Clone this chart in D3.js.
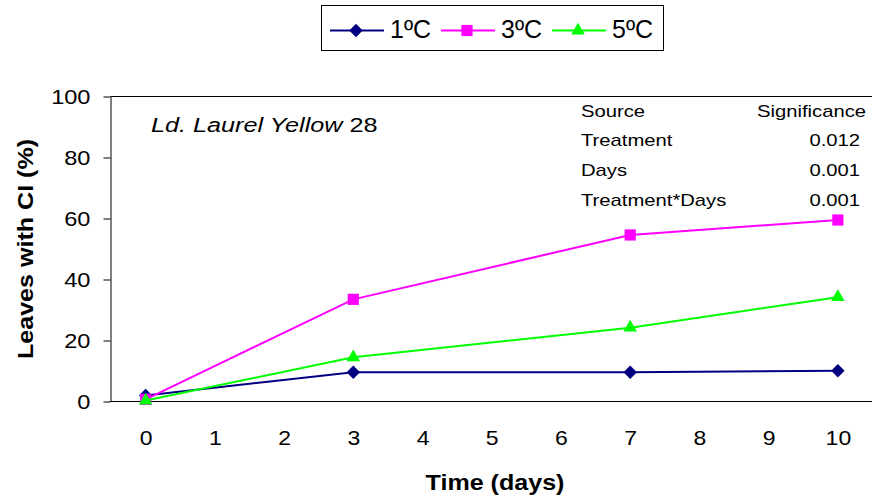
<!DOCTYPE html>
<html>
<head>
<meta charset="utf-8">
<script src="https://cdn.jsdelivr.net/npm/d3@7"></script>
<style>
body { margin: 0; background: #fff; }
svg { display: block; font-family: "Liberation Sans", Arial, sans-serif; }
</style>
</head>
<body>
<svg width="872" height="503"></svg>
<script>
// data
var days = [0, 3, 7, 10];
var dayTicks = [0, 1, 2, 3, 4, 5, 6, 7, 8, 9, 10];
var yTicks = [0, 20, 40, 60, 80, 100];
var seriesNames = ["1ºC", "3ºC", "5ºC"];
var c1 = [2, 9.6, 9.6, 10.1];
var c3 = [0.7, 33.5, 54.6, 59.5];
var c5 = [0.3, 14.5, 24.2, 34.2];
var colors = ["#000080", "#ff00ff", "#00ff00"];
var shapes = ["diamond", "square", "triangle"];
var statSource = ["Source", "Treatment", "Days", "Treatment*Days"];
var statSig = ["Significance", "0.012", "0.001", "0.001"];

var svg = d3.select("svg");

var x = d3.scaleLinear().domain([-0.5, 10.5]).range([111, 872.5]);
var y = d3.scaleLinear().domain([0, 100]).range([401.5, 96.5]);

// text is drawn a bit wide in the original
var label = function(g, px, py, s, size, anchor, sx, weight) {
    return g.append("text")
        .attr("transform", "translate(" + px + "," + py + ") scale(" + sx + ",1)")
        .attr("font-size", size)
        .attr("font-weight", weight || "normal")
        .attr("text-anchor", anchor)
        .attr("fill", "#000")
        .text(s);
}

var symbolFor = function(shape) {
    if (shape == "diamond") return d3.symbol().type(d3.symbolSquare).size(90)();
    if (shape == "square") return d3.symbol().type(d3.symbolSquare).size(125)();
    return d3.symbol().type(d3.symbolTriangle).size(80)();
}

// frame: top border
svg.append("line")
    .attr("x1", 110.5).attr("x2", 872)
    .attr("y1", y(100)).attr("y2", y(100))
    .attr("stroke", "#000").attr("stroke-width", 1);

// y axis
var yAxis = svg.append("g")
    .attr("transform", "translate(110.5,0)")
    .call(d3.axisLeft(y).tickValues(yTicks).tickSize(7).tickSizeOuter(0));
yAxis.select(".domain").attr("stroke", "#000");
yAxis.selectAll("line").attr("stroke", "#000");
yAxis.selectAll("text")
    .attr("x", null).attr("dy", "0.36em")
    .attr("transform", "translate(-20,0) scale(1.18,1)")
    .attr("font-size", 20)
    .attr("font-family", "Liberation Sans, Arial, sans-serif")
    .attr("fill", "#000");

// x axis (category style, no tick marks)
var xAxis = svg.append("g")
    .attr("transform", "translate(0," + y(0) + ")")
    .call(d3.axisBottom(x).tickValues(dayTicks).tickSize(0).tickSizeOuter(0));
xAxis.select(".domain").attr("stroke", "#000").attr("d", "M110,0H872");
xAxis.selectAll("text")
    .attr("y", 43.5).attr("dy", 0)
    .attr("transform", "scale(1.15,1)")
    .attr("font-size", 20)
    .attr("font-family", "Liberation Sans, Arial, sans-serif")
    .attr("fill", "#000");

// axis titles
label(svg, 495, 490, "Time (days)", 22, "middle", 1.14, "bold");
svg.append("text")
    .attr("transform", "translate(33,249) rotate(-90) scale(1.14,1)")
    .attr("font-size", 22)
    .attr("font-weight", "bold")
    .attr("text-anchor", "middle")
    .text("Leaves with CI (%)");

// lines + markers
var allSeries = [c1, c3, c5];
var line = d3.line()
    .x(function(d, i) { return x(days[i]); })
    .y(function(d) { return y(d); });

allSeries.forEach(function(vals, k) {
    svg.append("path")
        .attr("d", line(vals))
        .attr("fill", "none")
        .attr("stroke", colors[k])
        .attr("stroke-width", 2);
    svg.selectAll(".m" + k)
        .data(vals)
        .enter()
        .append("path")
        .attr("class", "m" + k)
        .attr("d", symbolFor(shapes[k]))
        .attr("transform", function(d, i) {
            return "translate(" + x(days[i]) + "," + y(d) + ")" + (shapes[k] == "diamond" ? " rotate(45)" : "");
        })
        .attr("fill", colors[k]);
});

// cultivar label
var t = svg.append("text")
    .attr("transform", "translate(151,132) scale(1.23,1)")
    .attr("font-size", 20.5);
t.append("tspan").attr("font-style", "italic").text("Ld. Laurel Yellow ");
t.append("tspan").text("28");

// significance table
statSource.forEach(function(s, i) {
    label(svg, 581, 116.7 + i * 29.6, s, 17, "start", 1.19);
});
statSig.forEach(function(s, i) {
    label(svg, i == 0 ? 866 : 860, 116.7 + i * 29.6, s, 17, "end", 1.19);
});

// legend
var legend = svg.append("g");
legend.append("rect")
    .attr("x", 321.5).attr("y", 5.5)
    .attr("width", 342).attr("height", 45)
    .attr("fill", "#fff").attr("stroke", "#000").attr("stroke-width", 1);
var legX = [330, 441, 552];
seriesNames.forEach(function(name, k) {
    legend.append("line")
        .attr("x1", legX[k]).attr("x2", legX[k] + 54)
        .attr("y1", 30.5).attr("y2", 30.5)
        .attr("stroke", colors[k]).attr("stroke-width", 2);
    legend.append("path")
        .attr("d", symbolFor(shapes[k]))
        .attr("transform", "translate(" + (legX[k] + 26) + ",30.5)" + (shapes[k] == "diamond" ? " rotate(45)" : ""))
        .attr("fill", colors[k]);
    label(legend, legX[k] + 60, 38, name, 25, "start", 1);
});
</script>
</body>
</html>
